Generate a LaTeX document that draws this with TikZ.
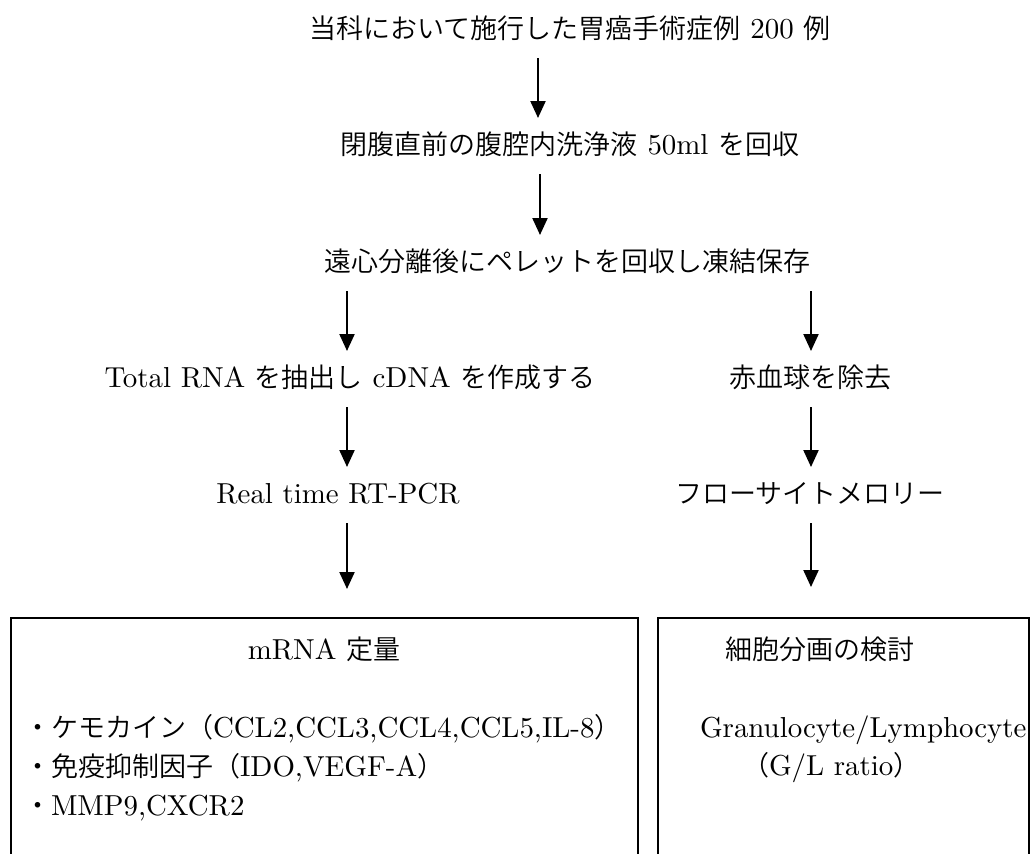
\documentclass[tikz,border=0pt]{standalone}
\usepackage{fontspec}
\setmainfont{lmroman10-regular}[Extension=.otf, Scale=1.07]
\newfontfamily\jp{Noto Sans CJK JP}[UprightFont=* DemiLight]
\usetikzlibrary{arrows.meta}
\begin{document}
\begin{tikzpicture}[x=1pt,y=-1pt,
  plain/.style={inner sep=0pt, outer sep=0pt, font=\fontsize{27}{32}\selectfont},
  stage/.style={plain, anchor=base, text height=22pt, text depth=6pt, outer ysep=14pt},
  boxtext/.style={plain, anchor=base},
  boxline/.style={plain, anchor=base west},
  flow/.style={line width=2.2pt, -{Triangle[length=17pt,width=15pt]}},
  panel/.style={draw, line width=2pt, inner sep=0pt, outer sep=0pt, anchor=north west}]
\useasboundingbox (0,0) rectangle (1031,854);
\clip (0,0) rectangle (1031,854);

% column coordinates for the arrows
\coordinate (xa) at (538,0);
\coordinate (xb) at (540,0);
\coordinate (xl) at (347,0);
\coordinate (xr) at (811,0);

% flow stages
\node[stage] (t1) at (570,38) {{\jp 当科において施行した胃癌手術症例} 200 {\jp 例}};
\node[stage] (t2) at (570,154) {{\jp 閉腹直前の腹腔内洗浄液} 50ml {\jp を回収}};
\node[stage] (t3) at (567,271) {{\jp 遠心分離後にペレットを回収し凍結保存}};
\node[stage] (t4) at (350,387) {Total RNA {\jp を抽出し} cDNA {\jp を作成する}};
\node[stage] (t5) at (338,503) {Real time RT-PCR};
\node[stage] (r1) at (810,387) {{\jp 赤血球を除去}};
\node[stage] (r2) at (810,503) {{\jp フローサイトメロリー}};

% result panels (open at the bottom edge)
\node[panel, minimum width=627pt, minimum height=400pt] (bx1) at (11,618) {};
\node[panel, minimum width=371pt, minimum height=400pt] (bx2) at (658,618) {};

\node[boxtext] (m1) at (324,659) {mRNA {\jp 定量}};
\node[boxline] (b1) at (24,737) {{\jp ・ケモカイン（}CCL2,CCL3,CCL4,CCL5,IL-8{\jp ）}};
\node[boxline] (b2) at (24,776) {{\jp ・免疫抑制因子（}IDO,VEGF-A{\jp ）}};
\node[boxline] (b3) at (24,815) {{\jp ・}MMP9,CXCR2};

\node[boxtext] (c1) at (820,659) {{\jp 細胞分画の検討}};
\node[boxline] (g1) at (700,737) {Granulocyte/Lymphocyte};
\node[boxline] (g2) at (742,775) {{\jp （}G/L ratio{\jp ）}};

% connectors
\draw[flow] (t1.south -| xa) -- (t2.north -| xa);
\draw[flow] (t2.south -| xb) -- (t3.north -| xb);
\draw[flow] (t3.south -| xl) -- (t4.north -| xl);
\draw[flow] (t3.south -| xr) -- (r1.north -| xr);
\draw[flow] (t4.south -| xl) -- (t5.north -| xl);
\draw[flow] (r1.south -| xr) -- (r2.north -| xr);
\draw[flow, shorten >=29pt] (t5.south -| xl) -- (bx1.north -| xl);
\draw[flow, shorten >=31pt] (r2.south -| xr) -- (bx2.north -| xr);
\end{tikzpicture}
\end{document}
